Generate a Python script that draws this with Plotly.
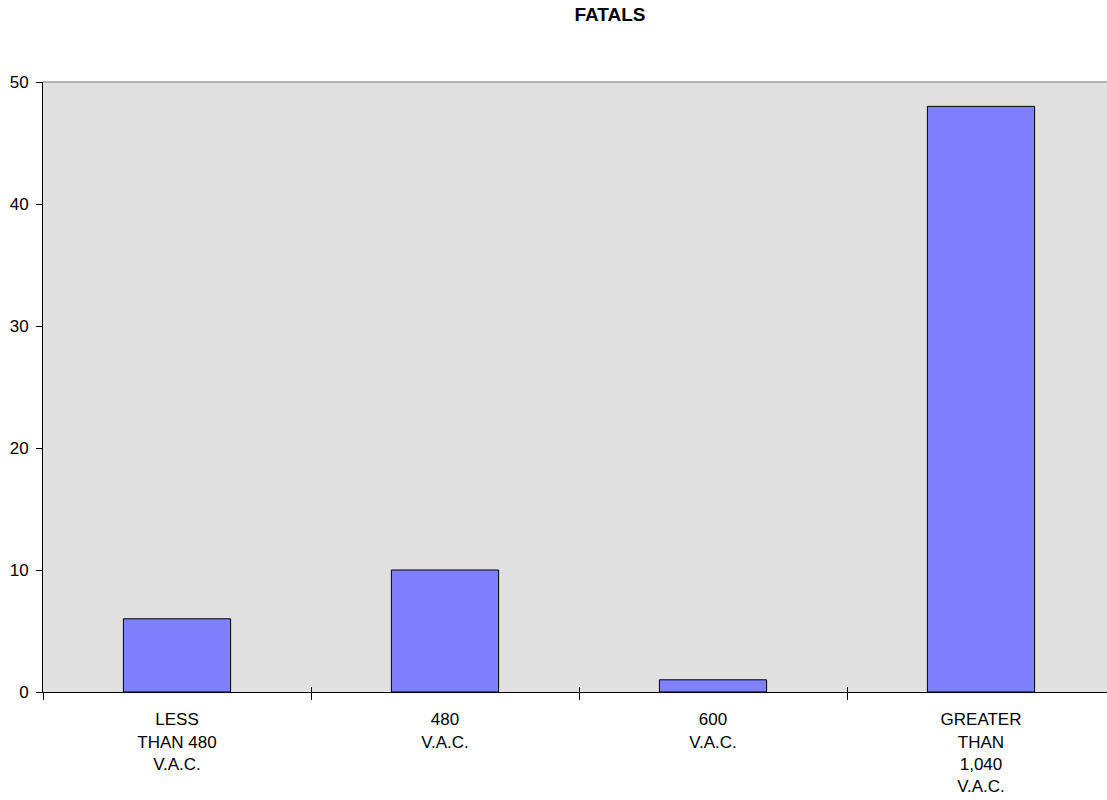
import plotly.graph_objects as go

# Fatal incidents by circuit voltage class
categories = ["LESS<br>THAN 480<br>V.A.C.", "480<br>V.A.C.", "600<br>V.A.C.", "GREATER<br>THAN<br>1,040<br>V.A.C."]
fatals = [6, 10, 1, 48]
y_ticks = [0, 10, 20, 30, 40, 50]

W, H = 1107, 800
FONT = "Liberation Sans, Arial, sans-serif"

fig = go.Figure()
fig.add_trace(go.Bar(
    x=categories,
    y=fatals,
    width=0.4,
    marker=dict(color="#8080ff", line=dict(color="#000000", width=1)),
    showlegend=False,
    hoverinfo="x+y",
))

fig.update_layout(
    width=W,
    height=H,
    paper_bgcolor="#ffffff",
    plot_bgcolor="#e0e0e0",
    margin=dict(l=43, r=0, t=82, b=108, pad=0),
    font=dict(family=FONT, size=17, color="#000000"),
    title=dict(
        text="<b>FATALS</b>",
        font=dict(family=FONT, size=19, color="#000000"),
        xref="container", yref="container",
        x=610 / W, y=1 - 14 / H,
        xanchor="center", yanchor="middle",
    ),
    bargap=0.6,
    xaxis=dict(
        type="category",
        categoryorder="array",
        categoryarray=categories,
        range=[-0.5, -0.5 + (W - 43) / 268],
        tickson="boundaries",
        ticks="outside",
        ticklen=7,
        tickwidth=1,
        tickcolor="#000000",
        ticklabelstandoff=12,
        showline=True,
        linecolor="#000000",
        linewidth=1,
        showgrid=False,
        zeroline=False,
        tickfont=dict(family=FONT, size=17, color="#000000"),
    ),
    xaxis2=dict(
        type="category",
        overlaying="x",
        matches="x",
        categoryorder="array",
        categoryarray=categories,
        tickson="boundaries",
        ticks="inside",
        ticklen=5,
        tickwidth=1,
        tickcolor="#000000",
        showticklabels=False,
        showline=False,
        showgrid=False,
        zeroline=False,
        side="bottom",
    ),
    yaxis=dict(
        range=[0, 50],
        tickvals=y_ticks,
        ticks="outside",
        ticklen=6,
        tickwidth=1,
        tickcolor="#000000",
        ticklabelstandoff=4,
        showline=True,
        linecolor="#000000",
        linewidth=1,
        showgrid=False,
        zeroline=False,
        tickfont=dict(family=FONT, size=17, color="#000000"),
    ),
)

# Invisible companion trace so the overlay axis draws its boundary ticks
fig.add_trace(go.Bar(x=categories, y=[None] * len(categories), xaxis="x2",
                     showlegend=False, hoverinfo="skip"))

# Thin grey border along the top of the plot area
fig.add_shape(type="line", xref="paper", yref="paper", x0=0, x1=1, y0=1, y1=1,
              line=dict(color="#a0a0a0", width=1.5))

fig.write_html("out.html")
